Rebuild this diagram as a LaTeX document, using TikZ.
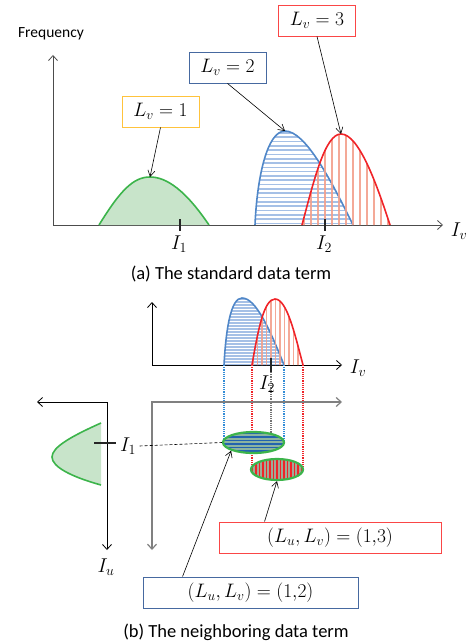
\RequirePackage{fix-cm}
\documentclass[tikz,border=0pt]{standalone}
\usepackage[no-math]{fontspec}
\setmainfont{Carlito}
\usetikzlibrary{arrows.meta,shapes.geometric}
\definecolor{cgreen}{RGB}{60,180,75}
\definecolor{cgreenf}{RGB}{200,228,202}
\definecolor{cblue}{RGB}{80,135,200}
\definecolor{cbluel}{RGB}{165,192,230}
\definecolor{cred}{RGB}{240,35,40}
\definecolor{credl}{RGB}{243,160,140}
\definecolor{cgold}{RGB}{255,195,60}
\definecolor{cboxblue}{RGB}{70,105,160}
\definecolor{cboxred}{RGB}{250,70,70}
\definecolor{cdblue}{RGB}{35,100,175}
\definecolor{cgg}{RGB}{140,180,160}
\definecolor{cgray}{RGB}{160,170,150}
\definecolor{cdot}{RGB}{50,140,215}
\tikzset{
  axis/.style={line width=0.8pt,-{Straight Barb[length=5pt,width=9pt]}},
  axisboth/.style={line width=0.8pt,{Straight Barb[length=5pt,width=9pt]}-{Straight Barb[length=5pt,width=9pt]}},
  ptr/.style={line width=0.6pt,-{Straight Barb[length=6pt,width=7pt]}},
  tickmark/.style={line width=2.6pt,black!85},
  mt/.style={font=\fontsize{20}{23}\selectfont},
  captxt/.style={font=\fontsize{18.5}{22}\selectfont},
  lbl/.style={draw,line width=0.9pt,fill=white,inner sep=0pt,minimum height=31pt,font=\fontsize{19.5}{22}\selectfont},
  dotln/.style={densely dotted,line width=1.2pt},
  ellbox/.style={ellipse,draw=cgreen,line width=2.2pt,inner sep=0pt,minimum height=21pt},
}
\begin{document}
\begin{tikzpicture}[x=1pt,y=-1pt]
\useasboundingbox (0,0) rectangle (472,644);

% ---------------- (a) ----------------
\node[font=\fontsize{15.5}{18}\selectfont] (freq) at (51,34) {Frequency};
\coordinate (O1) at (53,225);
\coordinate (Y1) at (53,55);
\coordinate (X1) at (443,225);
\draw[axis,black!70] (O1) -- (Y1);
\draw[axis,black!70] (O1) -- (X1);
\node[mt] (Iv1) at (459,231) {$I_v$};

% green
\fill[cgreenf] (99,225) .. controls (120,191) and (133,177) .. (150,177) .. controls (167,177) and (186,191) .. (209,225) -- cycle;
\draw[cgreen,line width=1.6pt] (99,225) .. controls (120,191) and (133,177) .. (150,177) .. controls (167,177) and (186,191) .. (209,225);
\coordinate (pk1) at (150,177);

% blue
\begin{scope}
\clip (255,225) .. controls (257,178) and (267,131) .. (285,131) .. controls (305,131) and (330,178) .. (353,225) -- cycle;
\foreach \y in {133,137.3,...,226} \draw[cbluel,line width=1.6pt] (250,\y) -- (360,\y);
\end{scope}
\draw[cblue,line width=1.6pt] (255,225) .. controls (257,178) and (267,131) .. (285,131) .. controls (305,131) and (330,178) .. (353,225);
\coordinate (pk2) at (285,131);

% red
\begin{scope}
\clip (302,225) .. controls (314,180) and (325,134) .. (341,134) .. controls (359,134) and (377,185) .. (390,225) -- cycle;
\foreach \x in {304,311,...,392} \draw[credl,line width=2.6pt,opacity=0.9] (\x,130) -- (\x,226);
\end{scope}
\draw[cred,line width=1.6pt] (302,225) .. controls (314,180) and (325,134) .. (341,134) .. controls (359,134) and (377,185) .. (390,225);
\coordinate (pk3) at (341,134);

\draw[tickmark] (180,219) -- (180,231);
\draw[tickmark] (325,219) -- (325,231);
\node[mt] (I1a) at (179,244) {$I_1$};
\node[mt] (I2a) at (324,244) {$I_2$};

\node[lbl,draw=cgold,minimum width=77pt] (L1) at (160.5,111.5) {$L_v = 1$};
\node[lbl,draw=cboxblue,minimum width=77pt] (L2) at (227.5,67.5) {$L_v = 2$};
\node[lbl,draw=cboxred,minimum width=77pt] (L3) at (317,20.5) {$L_v = 3$};
\draw[ptr] (L1.south) -- (pk1);
\draw[ptr] (L2.south) -- (pk2);
\draw[ptr] (L3.south) -- (pk3);

\node[captxt] (capa) at (231,274) {(a) The standard data term};

% ---------------- (b) ----------------
\coordinate (O2) at (152,365);
\draw[axis] (O2) -- (152,302);
\draw[axis] (O2) -- (342,365);
\node[mt] (Iv2) at (358,368) {$I_v$};

% dotted projections
\draw[dotln,cdot] (224,365) -- (224,442);
\draw[dotln,cdot] (284,365) -- (284,442);
\draw[dotln,cred] (252,365) -- (252,469);
\draw[dotln,cred] (303,365) -- (303,469);
\draw[dotln,black!55] (271,372) -- (271,436);

% small blue
\begin{scope}
\clip (224,365) .. controls (226,328) and (231,298) .. (242,298) .. controls (256,298) and (270,330) .. (284,365) -- cycle;
\foreach \y in {299,302,...,366} \draw[cbluel,line width=1.2pt] (220,\y) -- (290,\y);
\end{scope}
\draw[cblue,line width=1.6pt] (224,365) .. controls (226,328) and (231,298) .. (242,298) .. controls (256,298) and (270,330) .. (284,365);

% small red
\begin{scope}
\clip (252,365) .. controls (258,330) and (264,299) .. (275,299) .. controls (287,299) and (295,335) .. (303,365) -- cycle;
\foreach \x in {253,257.5,...,304} \draw[credl,line width=1.5pt,opacity=0.9] (\x,296) -- (\x,366);
\end{scope}
\draw[cred,line width=1.6pt] (252,365) .. controls (258,330) and (264,299) .. (275,299) .. controls (287,299) and (295,335) .. (303,365);

\draw[tickmark] (271,358) -- (271,372);
\node[mt] (I2b) at (267,384) {$I_2$};

% gray frame
\draw[axisboth,black!50,line width=1.2pt] (152,550) -- (152,402) -- (342,402);

% left axis
\draw[axisboth] (37,402) -- (107,402) -- (107,550);
\node[mt] (Iu) at (106,567) {$I_u$};

% left green
\fill[cgreenf] (101,423) .. controls (72,436) and (52,447) .. (52,457) .. controls (52,467) and (72,477) .. (101,485) -- cycle;
\draw[cgreen,line width=1.6pt] (101,423) .. controls (72,436) and (52,447) .. (52,457) .. controls (52,467) and (72,477) .. (101,485);
\draw[tickmark] (94,443) -- (116,443);
\node[mt] (I1b) at (128,446) {$I_1$};

% ellipses: striped fills
\begin{scope}
\clip (253.5,442.5) ellipse [x radius=30.5, y radius=10.5];
\fill[cgg] (220,430) rectangle (290,455);
\foreach \y in {433.5,437,...,453} \draw[cdblue,line width=1.9pt] (215,\y) -- (295,\y);
\end{scope}
\begin{scope}
\clip (277,469.5) ellipse [x radius=26, y radius=10.5];
\fill[cgray] (248,456) rectangle (306,483);
\foreach \x in {252.5,256,...,305} \draw[cred,line width=1.9pt] (\x,455) -- (\x,485);
\end{scope}
\node[ellbox,minimum width=61pt] (EB) at (253.5,442.5) {};
\node[ellbox,minimum width=52pt] (ER) at (277,469.5) {};

\draw[densely dashed,line width=0.6pt] (I1b.east) -- (EB.west);

\node[lbl,draw=cboxred,minimum width=222pt] (B13) at (330,537.5) {$(L_u, L_v) = (1{,}3)$};
\node[lbl,draw=cboxblue,minimum width=215pt] (B12) at (250.5,592.5) {$(L_u, L_v) = (1{,}2)$};
\draw[ptr] ([xshift=46pt]B13.north west) -- (ER.south);
\draw[ptr] ([xshift=40pt]B12.north west) -- (EB.south west);

\node[captxt] (capb) at (236,632) {(b) The neighboring data term};
\end{tikzpicture}
\end{document}
